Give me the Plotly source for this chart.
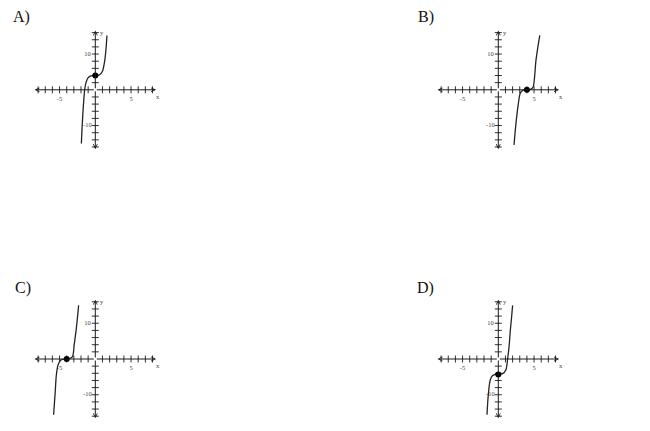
import plotly.graph_objects as go

# curves (x, y in graph units)
a_x = [-1.95, -1.85, -1.72, -1.6, -1.49, -1.3, -1.0, -0.6, 0.0, 0.6, 1.0, 1.3, 1.5, 1.63]
a_y = [-15.0, -10.5, -6.0, -2.5, 0.0, 2.0, 3.4, 3.9, 4.0, 4.2, 5.2, 7.9, 11.5, 15.2]
b_x = [2.2, 2.45, 2.78, 3.1, 3.5, 4.0, 4.5, 4.87, 5.06, 5.25, 5.5, 5.8]
b_y = [-15.4, -9.8, -4.2, -0.8, -0.1, 0.0, 0.1, 0.8, 3.3, 7.9, 11.5, 15.2]
c_x = [-5.83, -5.6, -5.45, -5.2, -4.8, -4.0, -3.5, -3.17, -2.95, -2.7, -2.5, -2.33]
c_y = [-15.6, -9.0, -4.5, -1.6, -0.3, 0.0, 0.2, 0.75, 4.0, 7.8, 11.5, 15.0]
d_x = [-1.58, -1.4, -1.12, -0.8, -0.3, 0.0, 0.6, 1.07, 1.3, 1.53, 1.67, 1.86, 2.0]
d_y = [-15.6, -10.0, -5.8, -4.6, -4.3, -4.3, -4.1, -3.0, 0.0, 4.0, 7.8, 11.7, 15.0]

# highlighted points
dots_x = [0, 4, -4, 0]
dots_y = [4, 0, 0, -4.3]

labels = ["A)", "B)", "C)", "D)"]
x_ticks = [-8, -7, -6, -5, -4, -3, -2, -1, 1, 2, 3, 4, 5, 6, 7, 8]
y_ticks = [-16, -14, -12, -10, -8, -6, -4, -2, 2, 4, 6, 8, 10, 12, 14, 16]
x_tick_labels = {-5: "-5", 5: "5"}
y_tick_labels = {10: "10", -10: "-10"}

W, H = 650, 431
OFF = 8                   # the page body margin
XR, YR = 9.5, 19          # half ranges of each small graph
PX_X, PX_Y = 7.15, 3.575  # pixels per unit
X_END, Y_END = 8.5, 16.6  # axis arrow ends
centers = [(95.3, 89.8), (498.3, 89.8), (95.3, 359), (498.3, 359)]
label_pos = [(21, 17), (426, 17), (23, 288), (425, 288)]

curves = [(a_x, a_y), (b_x, b_y), (c_x, c_y), (d_x, d_y)]
ink = "#1a1a1a"
small = dict(family="Liberation Serif", size=6.5, color="#444")

fig = go.Figure()
layout = dict(width=W, height=H, margin=dict(l=0, r=0, t=0, b=0),
              paper_bgcolor="white", plot_bgcolor="white", showlegend=False)
annotations = []

for i, ((cx, cy), (xs, ys)) in enumerate(zip(centers, curves)):
    n = "" if i == 0 else str(i + 1)
    xa, ya = "x" + n, "y" + n
    cx, cy = cx - OFF, cy - OFF
    hw, hh = XR * PX_X, YR * PX_Y
    layout["xaxis" + n] = dict(domain=[(cx - hw) / W, (cx + hw) / W], range=[-XR, XR],
                               visible=False, anchor=ya)
    layout["yaxis" + n] = dict(domain=[(H - cy - hh) / H, (H - cy + hh) / H], range=[-YR, YR],
                               visible=False, anchor=xa)

    # axes with arrow heads
    for ex, ey in [(X_END, 0), (-X_END, 0), (0, Y_END), (0, -Y_END)]:
        annotations.append(dict(x=ex, y=ey, ax=0, ay=0, xref=xa, yref=ya, axref=xa, ayref=ya,
                                text="", showarrow=True, arrowhead=5, arrowsize=0.8,
                                arrowwidth=1, arrowcolor=ink))

    # tick marks
    fig.add_trace(go.Scatter(x=x_ticks, y=[0] * len(x_ticks), mode="markers", xaxis=xa, yaxis=ya,
                             marker=dict(symbol="line-ns", size=5, line=dict(width=0.9, color=ink)),
                             hoverinfo="skip"))
    fig.add_trace(go.Scatter(x=[0] * len(y_ticks), y=y_ticks, mode="markers", xaxis=xa, yaxis=ya,
                             marker=dict(symbol="line-ew", size=5, line=dict(width=0.9, color=ink)),
                             hoverinfo="skip"))

    # tick labels
    fig.add_trace(go.Scatter(x=list(x_tick_labels), y=[-2.7] * len(x_tick_labels),
                             text=list(x_tick_labels.values()), mode="text", xaxis=xa, yaxis=ya,
                             textfont=small, hoverinfo="skip"))
    fig.add_trace(go.Scatter(x=[-1.1] * len(y_tick_labels), y=list(y_tick_labels),
                             text=list(y_tick_labels.values()), mode="text", xaxis=xa, yaxis=ya,
                             textfont=small, hoverinfo="skip"))
    fig.add_trace(go.Scatter(x=[8.7, 0.9], y=[-2.2, 15.9], text=["x", "y"], mode="text",
                             xaxis=xa, yaxis=ya, textfont=small, hoverinfo="skip"))

    # the curve and its point
    fig.add_trace(go.Scatter(x=xs, y=ys, mode="lines", xaxis=xa, yaxis=ya,
                             line=dict(color="#222", width=1.3, shape="spline", smoothing=0.8),
                             cliponaxis=False))
    fig.add_trace(go.Scatter(x=[dots_x[i]], y=[dots_y[i]], mode="markers", xaxis=xa, yaxis=ya,
                             marker=dict(size=6, color="black")))

    lx, ly = label_pos[i]
    annotations.append(dict(x=(lx - OFF) / W, y=1 - (ly - OFF) / H, xref="paper", yref="paper",
                            text=labels[i], showarrow=False, xanchor="center", yanchor="middle",
                            font=dict(family="Liberation Serif", size=16, color="#111")))

layout["annotations"] = annotations
fig.update_layout(**layout)
fig.write_html("out.html")
